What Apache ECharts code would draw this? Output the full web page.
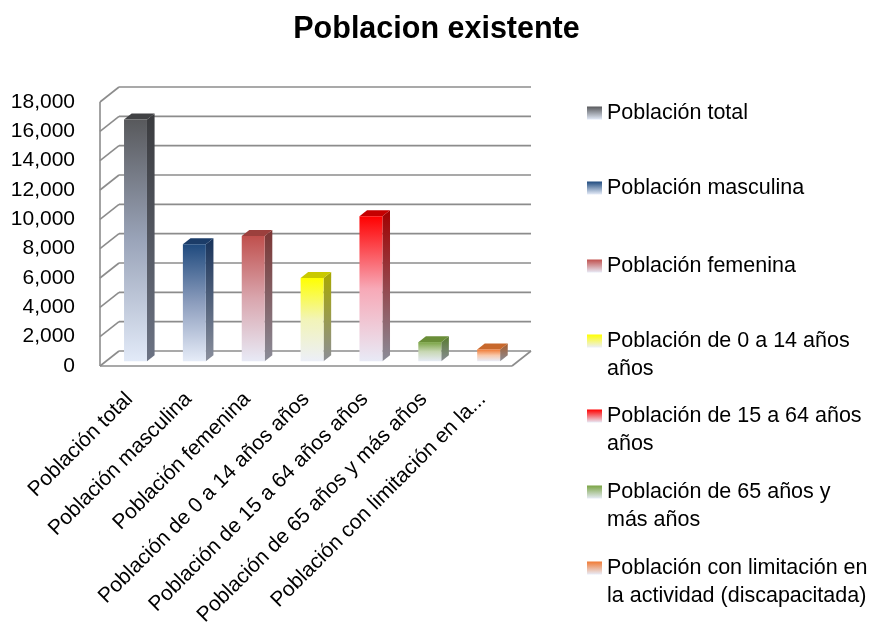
<!DOCTYPE html>
<html>
<head>
<meta charset="utf-8">
<title>Poblacion existente</title>
<script src="https://cdn.jsdelivr.net/npm/echarts@6/dist/echarts.min.js"></script>
<style>
html, body { margin: 0; padding: 0; background: #fff; }
#chart { width: 873px; height: 627px; }
</style>
</head>
<body>
<div id="chart"></div>
<script>
const categories = [
  'Población total',
  'Población masculina',
  'Población femenina',
  'Población de 0 a 14 años años',
  'Población de 15 a 64 años años',
  'Población de 65 años y más años',
  'Población con limitación en la actividad (discapacitada)'
];
const axisLabels = [
  'Población total',
  'Población masculina',
  'Población femenina',
  'Población de 0 a 14 años años',
  'Población de 15 a 64 años años',
  'Población de 65 años y más años',
  'Población con limitación en la...'
];
const legendLabels = [
  'Población total',
  'Población masculina',
  'Población femenina',
  'Población de 0 a 14 años\naños',
  'Población de 15 a 64 años\naños',
  'Población de 65 años y\nmás años',
  'Población con limitación en\nla actividad (discapacitada)'
];
const values = [16480, 7980, 8540, 5680, 9890, 1300, 800];
const yTicks = [0, 2000, 4000, 6000, 8000, 10000, 12000, 14000, 16000, 18000];

// front top / front mid / front bottom / side top / side bottom / top face
const colors = [
  ['#58595c', '#9aa4b9', '#e2eaf8', '#3a3b3e', '#6c7384', '#404144'],
  ['#1f4a7e', '#8c9dbd', '#e6ecf8', '#17325a', '#8a8f9c', '#1b3c68'],
  ['#c0504d', '#d9a6ae', '#e8eaf6', '#7c3533', '#8a8c98', '#9c403d'],
  ['#ffff00', '#f2f4b8', '#eceff8', '#a8a800', '#8c8e96', '#c9c900'],
  ['#ff0000', '#f7a9b7', '#e8eaf6', '#a00000', '#8a8c98', '#c40000'],
  ['#7aa444', '#c8d8b4', '#e6ebf5', '#567a2c', '#8a8e96', '#6a8e38'],
  ['#f07a34', '#f8c8aa', '#e8ecf8', '#a85a28', '#8a8e98', '#c8682c']
];

const FONT = "'Liberation Sans', Arial, sans-serif";
const DX = 19, DY = -15, D0 = 0.32, D1 = 0.72;

function grad(stops, end) {
  end = end || 1;
  return new echarts.graphic.LinearGradient(0, 0, 0, 1,
    stops.map((c, k) => ({ offset: end * k / (stops.length - 1), color: c })));
}

function barItem(c) {
  return function (params, api) {
    const i = api.value(0), v = api.value(1);
    const b = api.coord([i, 0]), t = api.coord([i, v]);
    const w = api.size([1, 0])[0] * 0.39;
    const x0 = b[0] - w / 2 + DX * D0, x1 = x0 + w;
    const yb = b[1] + DY * D0, yt = t[1] + DY * D0;
    const ex = DX * (D1 - D0), ey = DY * (D1 - D0);
    return {
      type: 'group',
      children: [
        { type: 'polygon', shape: { points: [[x1, yt], [x1 + ex, yt + ey], [x1 + ex, yb + ey], [x1, yb]] },
          style: { fill: grad([c[3], c[4]]) } },
        { type: 'polygon', shape: { points: [[x0, yt], [x1, yt], [x1 + ex, yt + ey], [x0 + ex, yt + ey]] },
          style: { fill: c[5] } },
        { type: 'rect', shape: { x: x0, y: yt, width: w, height: yb - yt },
          style: { fill: grad([c[0], c[1], c[2]]) } }
      ]
    };
  };
}

function frameItem(params, api) {
  const cs = params.coordSys;
  const left = cs.x, right = cs.x + cs.width;
  const v = api.value(1);
  const y = api.coord([0, v])[1];
  const lines = [
    [[left, y], [left + DX, y + DY]],
    [[left + DX, y + DY], [right + DX, y + DY]]
  ];
  if (v === 0) {
    lines.push([[left, y], [right, y]]);
    lines.push([[right, y], [right + DX, y + DY]]);
    lines.push([[left, y], [left, api.coord([0, yTicks[yTicks.length - 1]])[1]]]);
  }
  return {
    type: 'group',
    children: lines.map(p => ({
      type: 'polyline', shape: { points: p },
      style: { stroke: '#8c8c8c', lineWidth: 1.6, fill: 'none' }
    }))
  };
}

const legendY = [112, 187, 265, 340, 415, 491, 567];
// icon for two-line entries: square on the first line inside a taller box
const tallIcon = 'path://M0,0L15,0L15,13L0,13Z M0,41L0.01,41L0.01,41.01Z';

const series = [{
  type: 'custom', name: 'frame', silent: true, clip: false, z: 1,
  renderItem: frameItem,
  data: yTicks.map(v => [0, v])
}];
categories.forEach((name, i) => {
  series.push({
    type: 'custom', name: name, clip: false, z: 5,
    itemStyle: { color: grad([colors[i][0], colors[i][2]]) },
    renderItem: barItem(colors[i]),
    data: [[i, values[i]]]
  });
});

const chart = echarts.init(document.getElementById('chart'));
chart.setOption({
  animation: false,
  title: {
    text: 'Poblacion existente', left: 'center', top: 9,
    textStyle: { fontFamily: FONT, fontSize: 30.5, fontWeight: 'bold', color: '#000' }
  },
  legend: categories.map((name, i) => {
    const two = legendLabels[i].indexOf('\n') >= 0;
    return {
      data: [{
        name: name,
        icon: two ? tallIcon : 'rect',
        itemStyle: { color: grad([colors[i][0], colors[i][2]], two ? 13 / 41 : 1) }
      }],
      left: 587, top: legendY[i] - 13, padding: 0,
      itemWidth: 15, itemHeight: two ? 41 : 13, selectedMode: false,
      formatter: () => legendLabels[i],
      textStyle: { fontFamily: FONT, fontSize: 21.5, color: '#000', lineHeight: 28 }
    };
  }),
  grid: {
    left: 100, right: 361, top: 102, bottom: 261,
    containLabel: false, outerBoundsMode: 'none'
  },
  xAxis: {
    type: 'category', data: categories,
    axisLine: { show: false }, axisTick: { show: false }, splitLine: { show: false },
    axisLabel: {
      interval: 0, rotate: 45, margin: 30,
      formatter: (val, idx) => axisLabels[idx],
      fontFamily: FONT, fontSize: 21, color: '#000'
    }
  },
  yAxis: {
    type: 'value', min: 0, max: 18000, interval: 2000,
    axisLine: { show: false }, axisTick: { show: false }, splitLine: { show: false },
    axisLabel: { margin: 25, fontFamily: FONT, fontSize: 21, color: '#000' }
  },
  series: series
});
</script>
</body>
</html>
